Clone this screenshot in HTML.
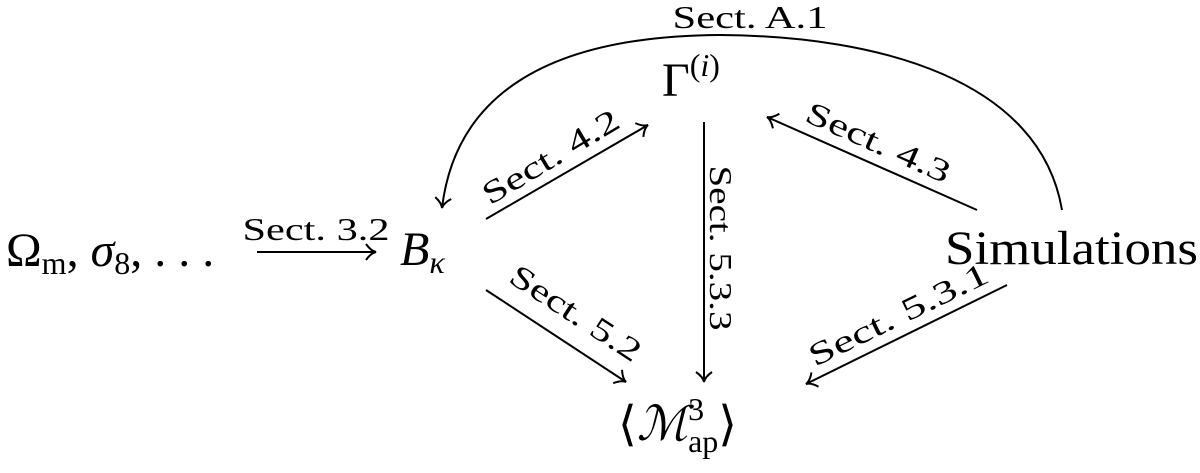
<!DOCTYPE html>
<html><head><meta charset="utf-8"><style>
html,body{margin:0;padding:0;background:#fff;}
svg{display:block;font-family:"Liberation Serif",serif;}
</style></head><body>
<svg width="1200" height="473" viewBox="0 0 1200 473" xmlns="http://www.w3.org/2000/svg">
<defs>
<marker id="a" markerWidth="20" markerHeight="20" refX="12" refY="10" orient="auto" markerUnits="userSpaceOnUse">
<path d="M2,2 Q7,9 12,10 Q7,11 2,18" fill="none" stroke="#000" stroke-width="2"/>
</marker>
</defs>
<g stroke="#000" stroke-width="2" fill="none">
<path d="M1062,210 C1040,80 880,36 720,35 C540,36 455,100 442,208" marker-end="url(#a)"/>
<line x1="486" y1="219" x2="648" y2="125" marker-end="url(#a)"/>
<line x1="704" y1="122" x2="704" y2="382" marker-end="url(#a)"/>
<line x1="486" y1="290" x2="626" y2="382" marker-end="url(#a)"/>
<line x1="1007" y1="285" x2="806" y2="384" marker-end="url(#a)"/>
<line x1="977" y1="210" x2="767" y2="117" marker-end="url(#a)"/>
<line x1="257" y1="252" x2="376" y2="252" marker-end="url(#a)"/>
</g>
<g fill="#000">
<text x="6" y="266" font-size="48">Ω<tspan font-size="32" dy="8">m</tspan><tspan dy="-8">, </tspan><tspan font-style="italic">σ</tspan><tspan font-size="32" dy="8">8</tspan><tspan dy="-8">, . . .</tspan></text>
<text x="400" y="265" font-size="48" font-style="italic">B<tspan font-size="32" dy="8">κ</tspan></text>
<text x="662" y="96" font-size="48">Γ<tspan font-size="32" dy="-20">(<tspan font-style="italic">i</tspan>)</tspan></text>
<text x="945" y="264" font-size="48" textLength="253" lengthAdjust="spacingAndGlyphs">Simulations</text>
<text x="618" y="440" font-size="48">⟨<tspan font-style="italic">ℳ</tspan><tspan font-size="32" dy="-20">3</tspan><tspan font-size="32" dx="-16" dy="32">ap</tspan><tspan dy="-12">⟩</tspan></text>
<g font-size="32" text-anchor="middle">
<text x="750" y="28" textLength="155" lengthAdjust="spacingAndGlyphs">Sect. A.1</text>
<text x="316" y="240" textLength="147" lengthAdjust="spacingAndGlyphs">Sect. 3.2</text>
<text transform="translate(556,166) rotate(-31)" textLength="154" lengthAdjust="spacingAndGlyphs">Sect. 4.2</text>
<text transform="translate(874,152) rotate(24)" textLength="155" lengthAdjust="spacingAndGlyphs">Sect. 4.3</text>
<text transform="translate(710,248) rotate(90)" textLength="165" lengthAdjust="spacingAndGlyphs">Sect. 5.3.3</text>
<text transform="translate(570,322) rotate(33)" textLength="150" lengthAdjust="spacingAndGlyphs">Sect. 5.2</text>
<text transform="translate(903,324) rotate(-26)" textLength="196" lengthAdjust="spacingAndGlyphs">Sect. 5.3.1</text>
</g>
</g>
</svg>
</body></html>
